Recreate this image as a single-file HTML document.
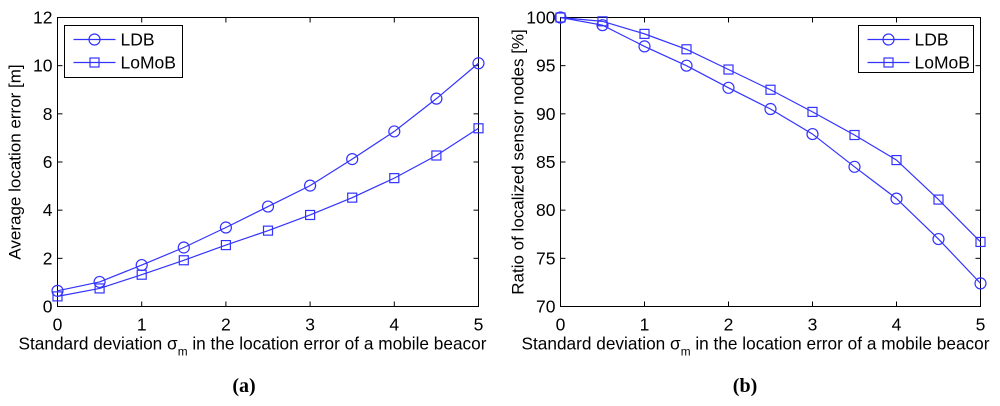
<!DOCTYPE html>
<html><head><meta charset="utf-8"><style>
body{margin:0;background:#fff;width:1000px;height:401px;overflow:hidden}
svg text{font-family:"Liberation Sans",sans-serif;fill:#000}
</style></head><body>
<svg id="svg" width="1000" height="401" xmlns="http://www.w3.org/2000/svg"></svg>
<script>
const xVals=[0,0.5,1,1.5,2,2.5,3,3.5,4,4.5,5];
const xTicks=[0,1,2,3,4,5];
const aLDB=[0.65,1.02,1.72,2.45,3.28,4.15,5.02,6.12,7.27,8.63,10.1];
const aLoMoB=[0.42,0.75,1.32,1.92,2.55,3.15,3.8,4.52,5.33,6.27,7.4];
const aYTicks=[0,2,4,6,8,10,12];
const bLDB=[100,99.2,97,95,92.7,90.5,87.9,84.5,81.2,77,72.4];
const bLoMoB=[100,99.6,98.3,96.7,94.6,92.5,90.2,87.8,85.2,81.1,76.7];
const bYTicks=[70,75,80,85,90,95,100];
const NS="http://www.w3.org/2000/svg";
const svg=document.getElementById('svg');
function mk(tag,attrs,parent){const e=document.createElementNS(NS,tag);for(const k in attrs)e.setAttribute(k,attrs[k]);(parent||svg).appendChild(e);return e;}
function marker(g,type,x,y){
  if(type==='circle') return mk('circle',{cx:x,cy:y,r:5.5,fill:'none',stroke:'#3333ff','stroke-width':1.2},g);
  return mk('rect',{x:x-4.5,y:y-4.5,width:9,height:9,fill:'none',stroke:'#3333ff','stroke-width':1.2},g);
}
function chart(id,x0,x1,y0,y1,ymin,ymax,yTicks,s1,s2,ylabel,legX,legY,legW,legH,cap,capX){
  const g=mk('g',{});
  
  
  const sx=v=>x0+(v-0)/(5-0)*(x1-x0);
  const sy=v=>y1-(v-ymin)/(ymax-ymin)*(y1-y0);
  const box=mk('rect',{x:x0,y:y0,width:x1-x0,height:y1-y0,fill:'none',stroke:'#000','stroke-width':1},g);
  
  
  xTicks.forEach(t=>{const x=sx(t);
    mk('line',{x1:x,x2:x,y1:y1,y2:y1-5,stroke:'#000'},g);
    mk('line',{x1:x,x2:x,y1:y0,y2:y0+5,stroke:'#000'},g);
    const tx=mk('text',{x:x,y:y1+24,'font-size':17.5,'text-anchor':'middle'},g);tx.textContent=t;
    
    
  });
  yTicks.forEach(t=>{const y=sy(t);
    mk('line',{x1:x0,x2:x0+5,y1:y,y2:y,stroke:'#000'},g);
    mk('line',{x1:x1,x2:x1-5,y1:y,y2:y,stroke:'#000'},g);
    const tx=mk('text',{x:x0-5,y:y+6,'font-size':17.5,'text-anchor':'end'},g);tx.textContent=t;
    
    
  });
  [[s1,'circle','ldb'],[s2,'square','lomob']].forEach(([s,type,nm])=>{
    const pts=s.map((v,i)=>sx(xVals[i])+','+sy(v)).join(' ');
    const pl=mk('polyline',{points:pts,fill:'none',stroke:'#3333ff','stroke-width':1.2},g);
    
    
    s.forEach((v,i)=>{const m=marker(g,type,sx(xVals[i]),sy(v));
      
      });
  });
  const xl=mk('text',{x:x0-39,y:y1+43,'font-size':17.5,'text-anchor':'start'},g);
  xl.innerHTML='Standard deviation σ<tspan font-size="12" dy="6">m</tspan><tspan dy="-6"> in the location error of a mobile beacor</tspan>';
  xl.setAttribute('textLength','468');
  xl.setAttribute('lengthAdjust','spacingAndGlyphs');
  
  
  const yl=mk('text',{x:0,y:0,'font-size':17,'text-anchor':'middle',transform:`translate(${x0-37},${(y0+y1)/2}) rotate(-90)`},g);
  yl.textContent=ylabel;
  
  
  const lg=mk('g',{},g);
  
  
  mk('rect',{x:legX,y:legY,width:legW,height:legH,fill:'#fff',stroke:'#000'},lg);
  [['LDB','circle'],['LoMoB','square']].forEach(([n,t],i)=>{
    const ly=legY+14+i*23;
    mk('line',{x1:legX+9,x2:legX+51,y1:ly,y2:ly,stroke:'#3333ff','stroke-width':1.2},lg);
    marker(lg,t,legX+30,ly);
    const tx=mk('text',{x:legX+56,y:ly+6,'font-size':17.5},lg);tx.textContent=n;
    
    
  });
  const c=mk('text',{x:capX,y:392,'font-size':20,'font-weight':'bold','text-anchor':'middle'},g);
  c.setAttribute('style','font-family:"Liberation Serif",serif');
  c.innerHTML='(<tspan>'+cap+'</tspan>)';
  
  
}
chart('chart-a',57.5,478.5,17.5,306.5,0,12,aYTicks,aLDB,aLoMoB,'Average location error [m]',64.5,25.5,118,52,'a',244);
chart('chart-b',560.5,980.5,17.5,306.5,70,100,bYTicks,bLDB,bLoMoB,'Ratio of localized sensor nodes [%]',858.5,25.5,115,47,'b',745);
</script>
</body></html>
